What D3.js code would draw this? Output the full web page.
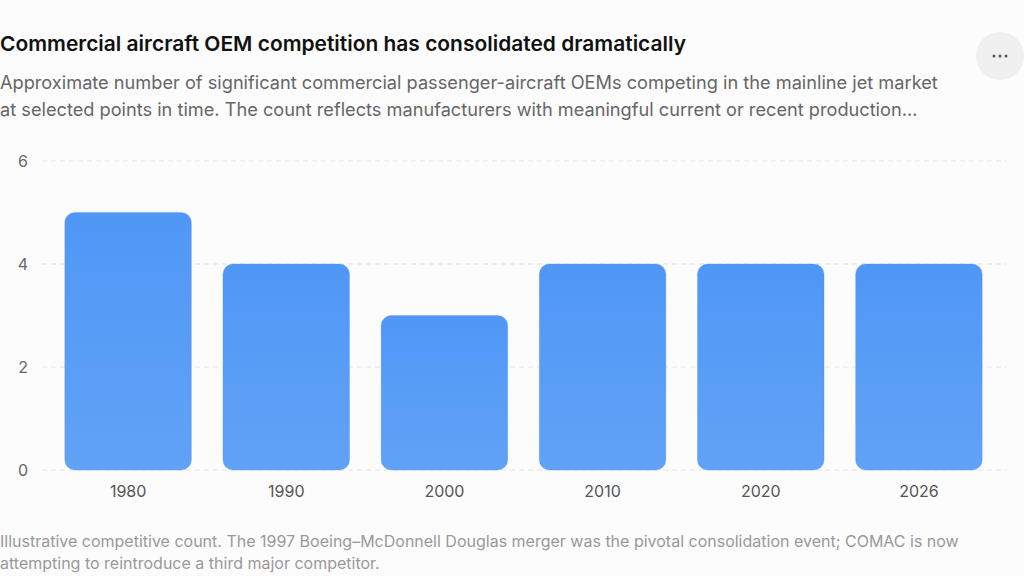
<!DOCTYPE html>
<html>
<head>
<meta charset="utf-8">
<script src="https://cdn.jsdelivr.net/npm/d3@7"></script>
<style>
  html, body { margin: 0; padding: 0; background: #fcfcfc; }
  svg { display: block; font-family: Inter, "Noto Sans", sans-serif; }
</style>
</head>
<body>
<svg id="chart" width="1024" height="576"></svg>
<script>
// chart data
var years = ["1980", "1990", "2000", "2010", "2020", "2026"];
var oemCounts = [5, 4, 3, 4, 4, 4];
var yTicks = [0, 2, 4, 6];

var title = "Commercial aircraft OEM competition has consolidated dramatically";
var subtitleLines = [
	"Approximate number of significant commercial passenger-aircraft OEMs competing in the mainline jet market",
	"at selected points in time. The count reflects manufacturers with meaningful current or recent production\u2026"
];
var footLines = [
	"Illustrative competitive count. The 1997 Boeing\u2013McDonnell Douglas merger was the pivotal consolidation event; COMAC is now",
	"attempting to reintroduce a third major competitor."
];

function drawChart(){
	var svg = d3.select('#chart');

	//Gradient for bars
	var defs = svg.append('defs');
	var grad = defs.append('linearGradient')
		.attr('id', 'barGrad')
		.attr('x1', '0%').attr('y1', '0%')
		.attr('x2', '0%').attr('y2', '100%');
	grad.append('stop').attr('offset', '0%').attr('stop-color', '#5097f6');
	grad.append('stop').attr('offset', '100%').attr('stop-color', '#60a2f6');

	//Header
	svg.append('text')
		.attr('x', 0)
		.attr('y', 51)
		.attr('textLength', 686)
		.attr('lengthAdjust', 'spacingAndGlyphs')
		.style('font-size', '20.5px')
		.style('font-weight', 600)
		.style('fill', '#111')
		.text(title);

	svg.append('g')
		.selectAll('text')
		.data(subtitleLines)
	  .enter()
		.append('text')
		.attr('x', 0)
		.attr('y', (d, i) => 89 + i * 27)
		.style('font-size', '18.2px')
		.style('fill', '#666')
		.text(d => d);

	//Menu button
	var btn = svg.append('g').attr('transform', 'translate(1000,56)');
	btn.append('circle').attr('r', 24).attr('fill', '#f0f0f0');
	btn.selectAll('circle.dot')
		.data([-6, 0, 6])
	  .enter()
		.append('circle')
		.classed('dot', true)
		.attr('cx', d => d)
		.attr('r', 1.5)
		.attr('fill', '#555');

	//Scales
	var x = d3.scaleBand()
		.domain(years)
		.range([49, 998])
		.paddingInner(0.2)
		.paddingOuter(0.1);

	var y = d3.scaleLinear()
		.domain([0, 6])
		.range([470, 161]);

	//Grid
	svg.append('g')
		.selectAll('line')
		.data(yTicks)
	  .enter()
		.append('line')
		.attr('x1', 42)
		.attr('x2', 1006)
		.attr('y1', d => y(d))
		.attr('y2', d => y(d))
		.attr('stroke', '#e2e2e2')
		.attr('stroke-dasharray', '5,4');

	//Y axis
	var yAxis = d3.axisLeft(y)
		.tickValues(yTicks)
		.tickFormat(d3.format('d'))
		.tickSize(0)
		.tickPadding(0);
	svg.append('g')
		.attr('transform', 'translate(28,0)')
		.call(yAxis)
		.call(g => g.select('.domain').remove())
		.selectAll('text')
		.style('font-size', '16px')
		.style('font-family', 'Inter, sans-serif')
		.style('fill', '#666')
		.attr('dy', '0.35em');

	//X axis
	var xAxis = d3.axisBottom(x)
		.tickSize(0)
		.tickPadding(0);
	svg.append('g')
		.attr('transform', 'translate(0,481)')
		.call(xAxis)
		.call(g => g.select('.domain').remove())
		.selectAll('text')
		.style('font-size', '16px')
		.style('font-family', 'Inter, sans-serif')
		.style('fill', '#555')
		.attr('dy', '1em');

	//Bars
	svg.append('g')
		.selectAll('rect')
		.data(years.map((d, i) => ({year: d, value: oemCounts[i]})))
	  .enter()
		.append('rect')
		.attr('x', d => x(d.year))
		.attr('width', x.bandwidth())
		.attr('y', d => y(d.value))
		.attr('height', d => y(0) - y(d.value))
		.attr('rx', 10)
		.attr('fill', 'url(#barGrad)')
		.attr('stroke', '#4a90ee')
		.attr('stroke-opacity', 0.3)
		.attr('stroke-width', 1);

	//Footnote
	svg.append('g')
		.selectAll('text')
		.data(footLines)
	  .enter()
		.append('text')
		.attr('x', 0)
		.attr('y', (d, i) => 547 + i * 22)
		.style('font-size', '16px')
		.style('fill', '#999')
		.text(d => d);
}

drawChart();
</script>
</body>
</html>
